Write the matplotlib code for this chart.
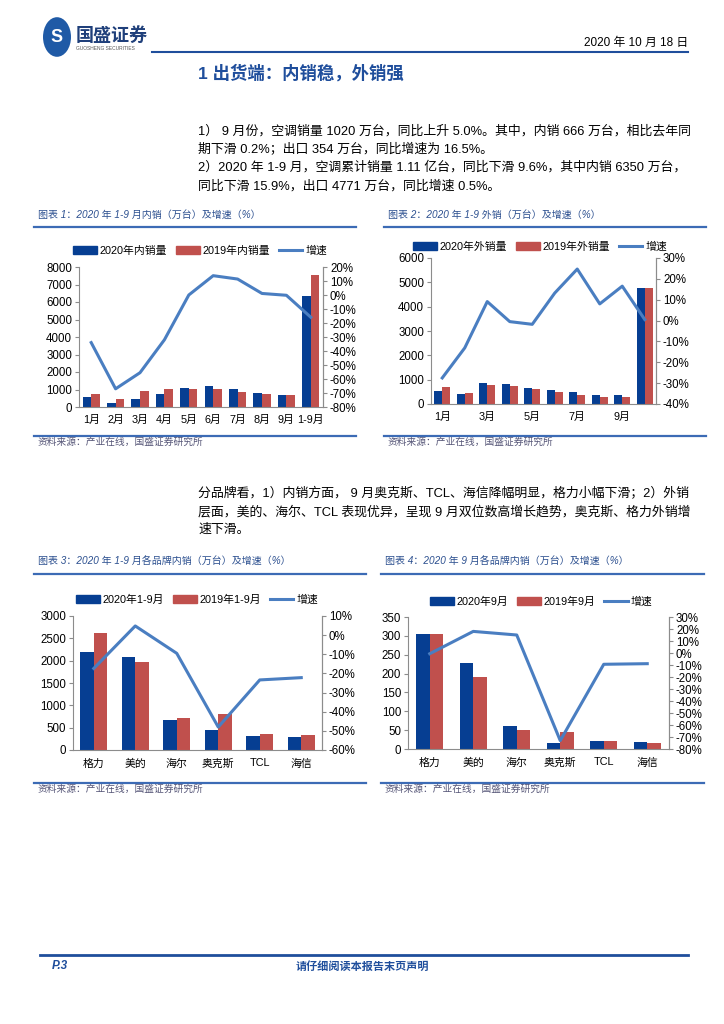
import matplotlib
matplotlib.use("Agg")
import matplotlib.pyplot as plt
from matplotlib.patches import Rectangle, Circle
from matplotlib.lines import Line2D
import numpy as np

plt.rcParams['font.family'] = ['Liberation Sans', 'Noto Sans CJK SC', 'DejaVu Sans']
plt.rcParams['axes.unicode_minus'] = False

# ---------------- data ----------------
months1 = ["1月", "2月", "3月", "4月", "5月", "6月", "7月", "8月", "9月", "1-9月"]
dom_2020 = [555, 230, 478, 765, 1090, 1225, 1014, 804, 700, 6350]
dom_2019 = [746, 478, 938, 1050, 1014, 1014, 861, 727, 660, 7550]
dom_growth = [-34, -67, -55.5, -32, 0, 13.8, 11.4, 1.1, -0.2, -15.9]

months2 = ["1月", "", "3月", "", "5月", "", "7月", "", "9月", ""]
exp_2020 = [548, 425, 877, 822, 658, 575, 493, 356, 370, 4771]
exp_2019 = [699, 438, 767, 726, 630, 479, 370, 288, 300, 4747]
exp_growth = [-27.5, -13.1, 9.1, -0.5, -1.8, 13.2, 24.7, 8.0, 16.5, 0.5]

brands = ["格力", "美的", "海尔", "奥克斯", "TCL", "海信"]
brand_ytd_2020 = [2187, 2090, 664, 440, 313, 291]
brand_ytd_2019 = [2619, 1978, 724, 813, 366, 343]
brand_ytd_growth = [-17.4, 4.8, -9.5, -48, -23.4, -22.2]

brand_sep_2020 = [306, 227, 60, 16, 22, 19]
brand_sep_2019 = [306, 191, 50, 46, 21, 17]
brand_sep_growth = [-0.6, 18, 15, -73, -9.4, -8.9]

# ---------------- figure ----------------
W, H = 724, 1024
fig = plt.figure(figsize=(W / 100, H / 100), dpi=100)

BLUE_BAR = "#063E92"
RED_BAR = "#C0504D"
LINE_C = "#4A7EC1"
TITLE_BLUE = "#1F4E9C"
SPINE = "#8C8C8C"


def fy(y):
    return 1 - y / H


def fx(x):
    return x / W


def hline(x0, x1, y, color=TITLE_BLUE, lw=1.5):
    fig.add_artist(Line2D([fx(x0), fx(x1)], [fy(y), fy(y)], color=color, lw=lw,
                          transform=fig.transFigure))


def txt(x, y, s, **kw):
    fig.text(fx(x), fy(y), s, **kw)


# ---------------- header ----------------
fig.add_artist(Circle((fx(57), fy(37)), 14 / W, transform=fig.transFigure,
                      facecolor="#1F5AA6", edgecolor="none"))
txt(57, 37, "S", color="white", fontsize=13, fontweight="bold", ha="center", va="center")
txt(76, 35, "国盛证券", fontsize=13, fontweight="bold", color="#1F3F7A", va="center",
    family=['Noto Sans CJK SC'])
txt(76, 48, "GUOSHENG SECURITIES", fontsize=3.5, color="#555555", va="center")
txt(688, 43, "2020 年 10 月 18 日", fontsize=8.5, ha="right", va="center")
hline(152, 688, 52, lw=1.5)
txt(198, 73, "1 出货端：内销稳，外销强", fontsize=12.5, fontweight="bold", color=TITLE_BLUE,
    va="center")

para1 = [
    "1） 9 月份，空调销量 1020 万台，同比上升 5.0%。其中，内销 666 万台，相比去年同",
    "期下滑 0.2%；出口 354 万台，同比增速为 16.5%。",
    "2）2020 年 1-9 月，空调累计销量 1.11 亿台，同比下滑 9.6%，其中内销 6350 万台，",
    "同比下滑 15.9%，出口 4771 万台，同比增速 0.5%。",
]
for i, line in enumerate(para1):
    txt(198, 131 + i * 18.3, line, fontsize=9.3, va="center")

para2 = [
    "分品牌看，1）内销方面， 9 月奥克斯、TCL、海信降幅明显，格力小幅下滑；2）外销",
    "层面，美的、海尔、TCL 表现优异，呈现 9 月双位数高增长趋势，奥克斯、格力外销增",
    "速下滑。",
]
for i, line in enumerate(para2):
    txt(198, 494 + i * 18, line, fontsize=9.3, va="center")

# ---------------- chart titles / sources ----------------
def chart_frame(x0, x1, ytitle, yline, ysrc_line, ysrc, title):
    txt(x0 + 4, ytitle, title, fontsize=7.2, style="italic", color="#2B4F8F", va="center")
    hline(x0, x1, yline, color="#3C6BB5", lw=1.6)
    hline(x0, x1, ysrc_line, color="#3C6BB5", lw=1.6)
    txt(x0 + 4, ysrc, "资料来源：产业在线，国盛证券研究所", fontsize=7, style="italic",
        color="#555577", va="center")


chart_frame(34, 356, 215, 227, 436, 442, "图表 1：2020 年 1-9 月内销（万台）及增速（%）")
chart_frame(384, 706, 215, 227, 436, 442, "图表 2：2020 年 1-9 外销（万台）及增速（%）")
chart_frame(34, 366, 562, 574, 783, 789, "图表 3：2020 年 1-9 月各品牌内销（万台）及增速（%）")
chart_frame(381, 704, 562, 574, 783, 789, "图表 4：2020 年 9 月各品牌内销（万台）及增速（%）")


# ---------------- combo charts ----------------
def combo(px, cats, a, b, g, ylim, ystep, rlim, rstep, labels, legend_xy, bw,
          tickfs=8.3, catfs=7.8):
    x0, y0, x1, y1 = px
    ax = fig.add_axes([fx(x0), fy(y1), fx(x1) - fx(x0), (y1 - y0) / H])
    n = len(a)
    x = np.arange(n)
    ax.bar(x - bw / 2, a, width=bw, color=BLUE_BAR, zorder=2, label=labels[0])
    ax.bar(x + bw / 2, b, width=bw, color=RED_BAR, zorder=2, label=labels[1])
    ax.set_xlim(-0.5, n - 0.5)
    ax.set_ylim(*ylim)
    ax.set_yticks(np.arange(ylim[0], ylim[1] + ystep / 2, ystep))
    ax.set_xticks(x)
    ax.set_xticklabels(cats, fontsize=catfs)
    ax.tick_params(axis="x", length=0, pad=6)
    ax.tick_params(axis="y", labelsize=tickfs, length=3, color=SPINE, pad=2)
    for s in ["top"]:
        ax.spines[s].set_visible(False)
    for s in ["left", "bottom", "right"]:
        ax.spines[s].set_color(SPINE)
        ax.spines[s].set_linewidth(0.8)
    ax2 = ax.twinx()
    ax2.plot(x, g, color=LINE_C, lw=2.2, zorder=3, label=labels[2])
    ax2.set_ylim(*rlim)
    rt = np.arange(rlim[0], rlim[1] + rstep / 2, rstep)
    ax2.set_yticks(rt)
    ax2.set_yticklabels([f"{int(round(v))}%" for v in rt])
    ax2.tick_params(axis="y", labelsize=tickfs, length=3, color=SPINE, pad=2)
    ax2.spines["top"].set_visible(False)
    ax2.spines["right"].set_color(SPINE)
    ax2.spines["right"].set_linewidth(0.8)
    ax2.spines["left"].set_visible(False)
    ax2.spines["bottom"].set_visible(False)
    handles = [Rectangle((0, 0), 1, 1, color=BLUE_BAR), Rectangle((0, 0), 1, 1, color=RED_BAR),
               Line2D([0], [0], color=LINE_C, lw=2.2)]
    fig.legend(handles, labels, loc="center", bbox_to_anchor=(fx(legend_xy[0]), fy(legend_xy[1])),
               ncol=3, frameon=False, fontsize=7.8, handlelength=2.2, handleheight=0.75,
               columnspacing=0.8, handletextpad=0.25, borderpad=0)
    return ax, ax2


combo((79, 267, 323, 407), months1, dom_2020, dom_2019, dom_growth, (0, 8000), 1000,
      (-80, 20), 10, ["2020年内销量", "2019年内销量", "增速"], (200, 251), 0.35)

combo((431, 258, 656, 404), months2, exp_2020, exp_2019, exp_growth, (0, 6000), 1000,
      (-40, 30), 10, ["2020年外销量", "2019年外销量", "增速"], (540, 247), 0.35)

combo((73, 616, 322, 750), brands, brand_ytd_2020, brand_ytd_2019, brand_ytd_growth, (0, 3000), 500,
      (-60, 10), 10, ["2020年1-9月", "2019年1-9月", "增速"], (197, 600), 0.32)

combo((408, 617, 669, 749), brands, brand_sep_2020, brand_sep_2019, brand_sep_growth, (0, 350), 50,
      (-80, 30), 10, ["2020年9月", "2019年9月", "增速"], (541, 602), 0.31)

# ---------------- footer ----------------
hline(40, 688, 955, color="#1F4E9C", lw=2)
txt(52, 966, "P.3", fontsize=8.5, fontweight="bold", style="italic", color=TITLE_BLUE, va="center")
txt(362, 966, "请仔细阅读本报告末页声明", fontsize=8, fontweight="bold", style="italic",
    color=TITLE_BLUE, va="center", ha="center")

fig.savefig("out.png", dpi=100)
